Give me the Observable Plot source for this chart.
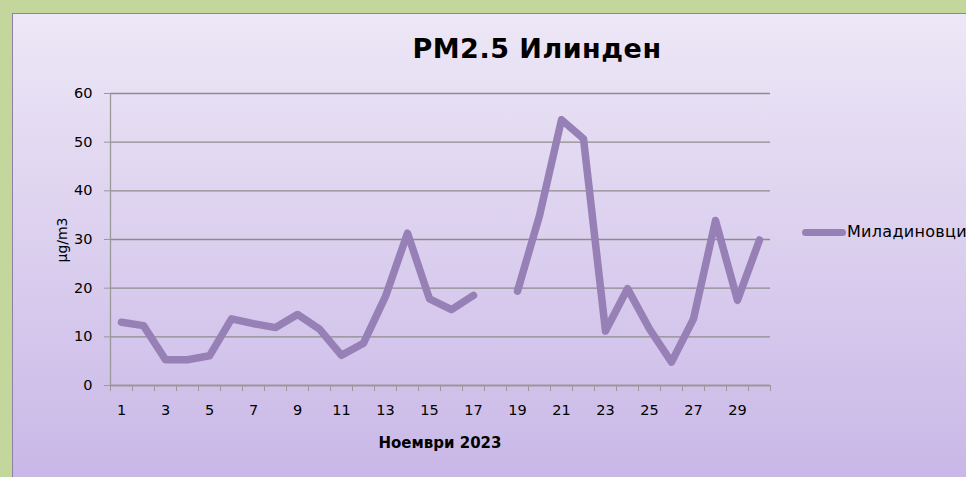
<!DOCTYPE html>
<html><head><meta charset="utf-8">
<script src="https://cdn.jsdelivr.net/npm/d3@7"></script>
<script src="https://cdn.jsdelivr.net/npm/@observablehq/plot@0.6"></script>
<style>
html,body{margin:0;padding:0;background:#c3d69b;overflow:hidden}
#wrap{position:relative;width:966px;height:477px;overflow:hidden;background:#c3d69b;font-family:"DejaVu Sans",sans-serif}
#panel{position:absolute;left:12px;top:13px;width:980px;height:490px;border:1px solid #8f80a6;background:linear-gradient(to bottom,#ede7f6,#c7b5e6)}
#chart{position:absolute;left:0;top:0}
#title{position:absolute;left:287px;width:500px;top:33px;text-align:center;font-weight:bold;font-size:27px;letter-spacing:0.5px;color:#000}
#ylab{position:absolute;left:62px;top:240px;transform:translate(-50%,-50%) rotate(-90deg);font-size:14px;color:#000;white-space:nowrap}
#xlab{position:absolute;left:340px;width:200px;top:434px;text-align:center;font-weight:bold;font-size:15px;color:#000}
#legline{position:absolute;left:802px;top:229px;width:44px;height:7px;border-radius:3.5px;background:#9680b6}
#legtext{position:absolute;left:847px;top:222px;font-size:16px;letter-spacing:0.3px;color:#000;white-space:nowrap}
</style></head>
<body>
<div id="wrap">
  <div id="panel"></div>
  <div id="chart"></div>
  <div id="title"></div>
  <div id="ylab"></div>
  <div id="xlab"></div>
  <div id="legline"></div>
  <div id="legtext"></div>
</div>
<script>
const titleText = "PM2.5 Илинден";
const yLabel = "μg/m3";
const xLabel = "Ноември 2023";
const seriesName = "Миладиновци";
const days = [1,2,3,4,5,6,7,8,9,10,11,12,13,14,15,16,17,18,19,20,21,22,23,24,25,26,27,28,29,30];
const pm25 = [13.0,12.3,5.3,5.3,6.1,13.7,12.7,11.9,14.6,11.6,6.2,8.7,18.3,31.3,17.8,15.6,18.5,null,19.4,34.9,54.6,50.7,11.2,19.9,11.6,4.8,13.7,33.9,17.5,29.9];
const yTicks = [0,10,20,30,40,50,60];
const xTickLabels = [1,3,5,7,9,11,13,15,17,19,21,23,25,27,29];

document.getElementById("title").textContent = titleText;
document.getElementById("ylab").textContent = yLabel;
document.getElementById("xlab").textContent = xLabel;
document.getElementById("legtext").textContent = seriesName;

const rows = days.map((d, i) => ({day: d, value: pm25[i]}));
const boundaries = days.map(d => d - 0.5).concat([days[days.length - 1] + 0.5]);
const axisColor = "#999999";

const chart = Plot.plot({
  width: 966,
  height: 477,
  marginLeft: 110,
  marginRight: 196,
  marginTop: 93,
  marginBottom: 92,
  x: {type: "linear", domain: [0.5, 30.5]},
  y: {domain: [0, 60]},
  style: {background: "transparent", fontFamily: "DejaVu Sans, sans-serif", color: "#000"},
  marks: [
    Plot.gridY(yTicks, {stroke: "#8c8c8c", strokeOpacity: 1, strokeWidth: 1.3}),
    Plot.axisY(yTicks, {tickSize: 6, tickPadding: 12, fontSize: 14.5, label: null, stroke: axisColor}),
    Plot.ruleX([0.5], {y1: 0, y2: 60, stroke: axisColor, strokeWidth: 1.3}),
    Plot.ruleY([0], {stroke: axisColor, strokeWidth: 1.3}),
    Plot.axisX(boundaries, {tickSize: 6, tickFormat: () => "", label: null, stroke: axisColor}),
    Plot.axisX(xTickLabels, {tickSize: 0, tickPadding: 19, fontSize: 14.5, label: null}),
    Plot.line(rows, {x: "day", y: "value", stroke: "#9680b6", strokeWidth: 7.5, strokeLinecap: "round", strokeLinejoin: "round"})
  ]
});
document.getElementById("chart").appendChild(chart);
</script>
</body></html>
